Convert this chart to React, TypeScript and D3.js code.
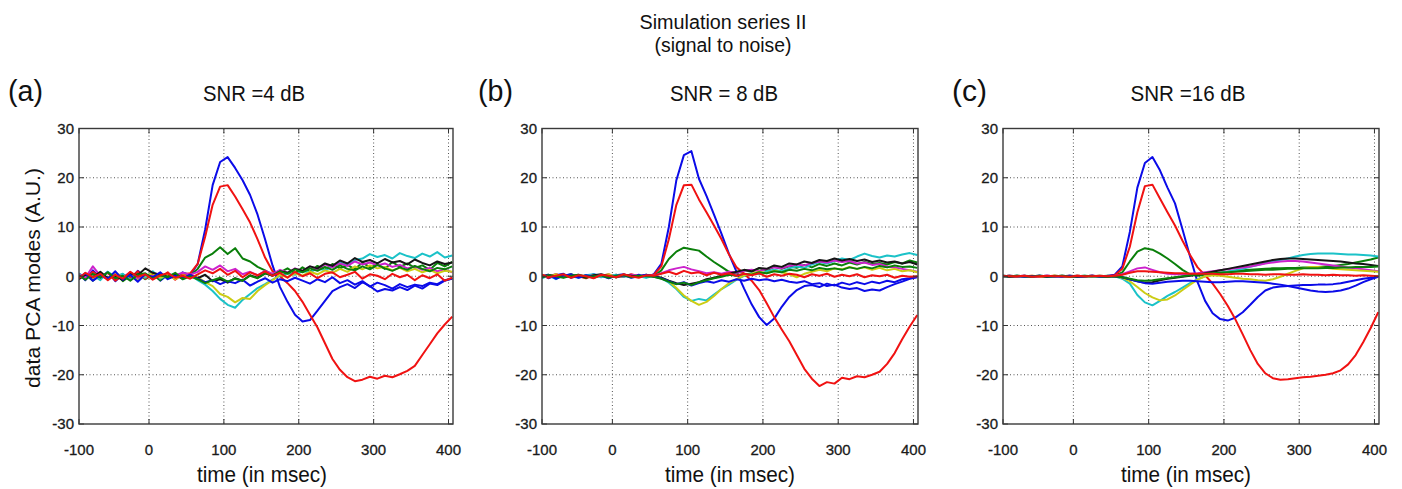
import React from 'react';
import * as d3 from 'd3';

// sampling grid (ms)
const TIMES: number[] = d3.range(-95, 406, 10);

const X_TICKS = [-100, 0, 100, 200, 300, 400];
const Y_TICKS = [-30, -20, -10, 0, 10, 20, 30];
const X_GRID = [0, 100, 200, 300, 400];
const Y_GRID = [-20, -10, 0, 10, 20];

const MAIN_TITLE = 'Simulation series II';
const SUB_TITLE = '(signal to noise)';
const PANEL_LABELS = ['(a)', '(b)', '(c)'];
const PANEL_TITLES = ['SNR =4 dB', 'SNR = 8 dB', 'SNR =16 dB'];
const X_LABEL = 'time (in msec)';
const Y_LABEL = 'data PCA modes (A.U.)';

const SERIES_KEYS = ['blue1', 'green1', 'red1', 'cyan', 'magenta', 'yellow', 'black', 'blue2', 'green2', 'red2'];
const SERIES_COLORS: Record<string, string> = {
  blue1: '#0b0be8', blue2: '#0b0be8', green1: '#0a7f0a', green2: '#0a7f0a',
  red1: '#f01212', red2: '#f01212', cyan: '#1bc2c8', magenta: '#cc22cc',
  yellow: '#cccc14', black: '#151515',
};

// ---------- Panel (a) SNR = 4 dB ----------
const A_BLUE1 = [0.5,-0.8,1.2,-0.3,0.9,-1.0,0.4,-0.6,1.1,-0.2,0.7,-0.9,0.3,-0.5,0.8,0.2,
  2.5,9.5,18.5,23.2,24.2,22.0,19.5,16.5,12.5,7.5,2.2,-2.2,-5.2,-7.8,-9.2,-8.9,-7.0,-5.0,-3.0,-2.2,-1.6,-2.4,-1.2,-2.0,-3.1,-2.6,-2.9,-2.2,-2.8,-1.9,-2.5,-1.5,-1.8,-0.9,-0.4];
const A_BLUE2 = [-0.3,0.6,-0.9,0.2,-0.5,1.0,-0.7,0.3,-1.1,0.4,-0.2,0.8,-0.6,0.1,-0.4,0.3,
  -0.5,-1.2,-0.8,-1.6,-1.0,-1.4,-0.7,-1.9,-1.1,-0.4,-1.3,-0.6,-1.0,-0.3,-0.9,-1.5,-0.6,-1.2,-0.2,-1.4,-0.8,-1.7,-1.0,-2.1,-1.3,-1.8,-2.5,-1.6,-2.2,-1.7,-2.0,-1.3,-1.6,-0.8,-0.5];
const A_RED1 = [0.3,-0.6,0.9,-0.2,0.7,-0.9,0.2,-0.4,1.0,-0.5,0.6,-0.3,0.8,-0.7,0.4,0.6,
  2.5,8.0,14.5,18.2,18.5,16.2,13.6,10.9,7.5,3.8,1.0,0.0,-1.4,-3.0,-5.2,-7.8,-10.4,-13.6,-16.8,-19.0,-20.5,-21.3,-21.0,-20.4,-20.8,-20.2,-20.5,-19.9,-19.2,-18.2,-16.0,-13.8,-11.6,-9.8,-8.2];
const A_RED2 = [-0.4,0.7,-0.2,0.5,-0.8,0.3,-0.5,0.9,-0.1,0.4,-0.7,0.2,0.6,-0.3,0.1,-0.5,
  0.4,1.2,0.6,1.5,0.3,1.1,-0.2,0.8,0.2,1.0,0.1,0.7,-0.3,0.9,0.0,0.6,-0.4,0.5,0.8,-0.2,0.3,0.9,-0.5,0.4,0.1,-0.6,0.5,-0.2,0.3,-0.8,0.2,-0.4,0.4,-0.9,-0.3];
const A_GREEN1 = [-0.5,0.4,-0.9,0.2,-0.3,0.7,-1.0,0.1,0.5,-0.6,0.3,-0.8,0.6,-0.2,0.4,0.1,
  1.5,3.8,4.6,5.9,4.5,5.7,3.6,3.0,1.9,1.2,0.3,0.8,1.6,0.6,1.8,0.9,2.1,1.3,2.5,1.6,2.3,1.4,2.8,1.8,2.4,1.5,2.9,1.9,2.6,1.7,2.2,1.3,2.7,2.0,2.9];
const A_GREEN2 = [0.2,-0.7,0.5,-0.3,0.8,-0.4,0.1,-0.9,0.3,0.6,-0.5,0.2,-0.2,0.7,-0.6,0.0,
  -0.6,-1.4,-0.8,-0.3,-1.1,-0.5,-0.9,0.1,-0.4,0.6,0.2,1.0,0.5,1.4,0.8,1.6,1.1,1.9,1.3,2.2,1.5,1.2,2.0,1.4,2.3,1.6,1.1,1.8,1.3,2.1,1.5,1.0,1.7,1.4,2.0];
const A_CYAN = [0.6,-0.4,0.2,-0.8,0.9,-0.1,0.5,-0.7,0.3,-0.3,1.0,-0.5,0.2,0.4,-0.6,0.3,
  -0.8,-1.7,-3.0,-4.6,-5.8,-6.4,-4.8,-3.6,-2.4,-1.6,-0.7,0.1,0.6,0.3,1.0,0.8,1.6,1.2,2.1,2.8,2.2,3.3,3.6,4.5,3.9,4.3,3.6,4.7,4.1,3.7,4.6,4.0,4.9,3.8,4.2];
const A_YELLOW = [-0.3,0.5,-0.7,0.2,-0.4,0.8,-0.2,0.4,-0.9,0.1,0.6,-0.3,0.3,-0.6,0.2,-0.1,
  -0.2,-1.2,-2.0,-3.6,-4.2,-5.3,-4.4,-4.6,-3.0,-1.8,-0.8,0.3,-0.2,0.6,0.1,0.9,0.4,1.2,0.7,1.5,0.9,2.0,1.4,2.2,1.6,1.9,1.2,1.7,1.0,1.5,0.8,1.3,0.6,1.1,0.9];
const A_MAGENTA = [0.4,-0.3,2.0,0.1,-0.6,0.5,-0.2,0.8,-0.5,0.3,0.0,0.6,-0.4,0.2,0.7,0.3,
  0.9,2.0,1.3,2.2,1.0,1.5,0.4,0.9,0.2,1.1,0.5,1.3,0.7,1.6,1.0,2.0,1.4,2.4,1.8,2.6,2.1,3.0,2.4,2.8,2.2,2.6,1.9,2.3,1.6,2.0,1.3,1.7,1.0,1.4,0.8];
const A_BLACK = [-0.6,0.3,-0.2,0.9,-0.4,0.1,-0.8,0.5,0.2,1.6,0.7,0.3,-0.1,0.4,-0.5,0.2,
  -0.4,0.3,-1.0,-0.6,-1.3,-0.4,-0.9,0.2,-0.3,0.6,0.1,1.0,0.7,1.5,1.1,2.0,1.6,2.6,2.1,3.2,2.6,3.7,2.9,3.3,2.6,3.5,2.8,3.1,2.4,3.4,2.7,2.2,3.0,2.5,2.8];

// ---------- Panel (b) SNR = 8 dB ----------
const B_BLUE1 = [0.3,-0.4,0.2,0.5,-0.3,0.1,-0.2,0.4,0.0,-0.3,0.2,0.4,-0.1,0.3,-0.2,0.4,
  2.5,10.0,19.5,24.6,25.4,19.8,16.3,12.5,8.6,4.5,0.9,-2.5,-5.7,-8.3,-9.9,-8.6,-6.2,-4.2,-2.8,-2.0,-1.8,-2.2,-1.5,-1.9,-1.3,-1.7,-1.2,-1.6,-1.1,-1.4,-0.9,-1.2,-0.6,-0.4,-0.1];
const B_BLUE2 = [-0.2,0.3,-0.5,0.1,0.4,-0.3,0.2,-0.1,0.3,-0.4,0.1,0.2,-0.3,0.0,0.3,-0.1,
  -0.4,-1.0,-1.6,-1.2,-1.9,-1.4,-1.0,-1.3,-0.8,-1.1,-0.6,-0.9,-0.5,-0.8,-0.6,-1.0,-0.7,-1.1,-1.3,-1.0,-1.6,-1.4,-2.0,-1.7,-2.3,-2.6,-2.4,-3.0,-2.7,-2.9,-2.2,-1.6,-1.1,-0.5,-0.2];
const B_RED1 = [0.2,-0.3,0.4,-0.1,0.3,0.0,-0.4,0.2,0.1,-0.2,0.3,-0.1,0.4,0.0,0.2,0.3,
  2.0,7.5,14.5,18.5,18.6,15.6,13.0,10.3,7.5,4.4,1.8,0.5,-0.9,-2.8,-5.5,-8.3,-10.8,-13.2,-16.0,-18.8,-20.8,-22.3,-21.5,-21.8,-20.6,-20.9,-20.3,-20.5,-20.0,-19.4,-17.8,-15.6,-12.8,-10.2,-7.9];
const B_RED2 = [0.3,-0.2,0.1,0.4,-0.3,0.2,0.0,-0.4,0.3,0.1,-0.2,0.4,0.0,-0.3,0.2,0.1,
  0.5,0.9,0.4,1.1,0.6,0.8,0.2,0.7,0.3,0.6,0.1,0.5,0.2,0.6,-0.1,0.4,0.1,0.5,0.3,-0.2,0.4,0.1,0.5,-0.1,0.3,0.0,0.4,-0.2,0.2,0.0,0.3,-0.3,0.1,-0.1,0.0];
const B_GREEN1 = [0.1,0.3,-0.2,0.0,0.4,-0.1,0.2,-0.3,0.1,0.3,-0.2,0.0,0.2,-0.1,0.3,0.0,
  1.2,3.5,5.0,5.8,5.5,5.2,4.0,2.9,1.9,0.9,0.6,1.2,0.9,1.6,1.2,1.9,1.5,2.0,1.7,2.3,1.8,2.5,2.1,2.6,2.2,2.8,2.4,2.9,2.5,2.7,2.4,2.9,2.6,3.2,2.8];
const B_GREEN2 = [-0.2,0.2,0.0,-0.3,0.1,0.3,-0.1,0.0,0.2,-0.3,0.1,0.2,-0.2,0.1,0.0,-0.1,
  -0.5,-1.1,-1.6,-1.3,-1.8,-1.2,-0.8,-0.4,-0.1,0.3,0.1,0.5,0.3,0.8,0.6,1.0,0.8,1.3,1.1,1.5,1.2,1.7,1.4,1.6,1.3,1.8,1.5,1.9,1.6,2.1,1.8,2.2,1.9,2.0,1.7];
const B_CYAN = [-0.4,0.2,-0.6,0.3,0.0,-0.3,0.2,0.4,-0.2,0.1,0.3,-0.1,0.2,0.0,-0.3,0.1,
  -0.4,-1.3,-2.6,-4.2,-5.0,-4.6,-4.9,-3.7,-2.6,-1.7,-0.7,0.1,0.6,0.4,1.0,1.3,1.0,1.6,2.0,1.7,2.4,2.9,2.6,3.1,3.6,3.3,4.0,4.6,4.1,3.8,4.2,4.0,4.4,4.7,4.3];
const B_YELLOW = [0.2,-0.1,0.4,-0.2,0.3,0.0,-0.3,0.2,0.1,0.4,-0.2,0.3,0.0,-0.1,0.2,0.0,
  -0.3,-1.0,-2.4,-3.9,-5.0,-5.8,-5.2,-4.0,-2.6,-1.4,-0.6,0.2,0.5,0.9,0.6,1.1,0.8,0.4,-0.2,0.5,0.9,1.3,1.0,1.6,1.4,1.9,1.5,1.8,1.3,1.7,1.2,1.5,1.0,1.2,0.8];
const B_MAGENTA = [0.3,0.0,0.4,-0.2,0.1,0.3,-0.1,0.2,0.0,0.4,-0.2,0.1,0.3,0.0,0.2,0.1,
  0.6,1.2,1.6,1.9,1.4,1.0,0.6,0.8,0.5,0.9,0.7,1.1,1.3,1.0,1.5,1.8,1.6,2.1,2.4,2.2,2.7,3.0,2.8,3.2,2.9,3.1,2.6,2.8,2.3,2.5,2.0,1.8,1.5,1.2,0.9];
const B_BLACK = [-0.1,0.2,0.0,0.3,-0.2,0.1,-0.3,0.2,0.4,0.0,-0.2,0.3,0.1,-0.1,0.2,0.0,
  -0.3,-0.9,-1.4,-1.8,-1.5,-1.2,-0.6,-0.3,0.1,0.5,0.9,1.3,1.0,1.7,1.5,2.2,1.9,2.6,2.4,3.0,2.7,3.3,3.1,3.6,3.2,3.5,3.1,3.4,2.9,3.2,2.8,3.0,2.6,2.9,2.4];

// ---------- Panel (c) SNR = 16 dB ----------
const C_BLUE1 = [0.1,-0.1,0.0,0.1,-0.1,0.0,0.1,0.0,-0.1,0.0,0.1,0.0,-0.1,0.0,0.1,0.3,
  2.0,9.0,18.0,23.0,24.2,21.5,18.0,14.8,9.5,4.0,-1.2,-5.0,-7.5,-8.7,-9.0,-8.4,-7.3,-5.8,-4.2,-2.9,-2.3,-2.1,-2.0,-1.9,-1.8,-1.8,-1.7,-1.7,-1.6,-1.4,-1.1,-0.8,-0.5,-0.3,-0.1];
const C_BLUE2 = [0.0,0.1,0.0,-0.1,0.0,0.1,0.0,0.0,-0.1,0.1,0.0,0.0,0.1,-0.1,0.0,0.0,
  -0.2,-0.6,-1.0,-1.4,-1.5,-1.3,-1.1,-1.0,-0.9,-0.9,-1.0,-1.1,-1.2,-1.2,-1.1,-1.0,-1.0,-1.1,-1.2,-1.3,-1.5,-1.7,-2.0,-2.3,-2.6,-2.9,-3.1,-3.2,-3.1,-2.9,-2.5,-1.9,-1.2,-0.6,-0.1];
const C_RED1 = [0.0,0.1,-0.1,0.0,0.1,-0.1,0.0,0.1,0.0,-0.1,0.1,0.0,0.1,-0.1,0.0,0.2,
  1.5,6.0,13.0,18.3,18.6,15.8,13.0,10.3,7.2,4.3,1.8,0.2,-1.5,-3.6,-6.0,-8.7,-11.8,-15.0,-17.8,-19.7,-20.7,-21.0,-20.9,-20.7,-20.5,-20.4,-20.2,-20.0,-19.7,-19.1,-17.9,-16.0,-13.4,-10.5,-7.3];
const C_RED2 = [0.1,0.0,0.0,0.1,-0.1,0.0,0.1,0.0,0.0,-0.1,0.1,0.0,0.0,0.1,0.0,0.1,
  0.3,0.7,1.0,1.0,0.9,0.8,0.7,0.6,0.6,0.5,0.5,0.5,0.5,0.4,0.4,0.5,0.5,0.4,0.4,0.3,0.4,0.4,0.3,0.3,0.4,0.3,0.3,0.2,0.3,0.2,0.2,0.1,0.2,0.1,0.0];
const C_GREEN1 = [0.1,0.0,-0.1,0.1,0.0,0.0,-0.1,0.1,0.0,0.1,0.0,-0.1,0.0,0.1,0.0,0.1,
  0.8,3.0,5.0,5.7,5.4,4.6,3.6,2.5,1.3,0.4,0.1,0.3,0.5,0.7,0.9,1.0,1.2,1.3,1.4,1.5,1.6,1.6,1.7,1.7,1.8,1.8,1.9,2.0,2.1,2.3,2.5,2.8,3.1,3.4,3.8];
const C_GREEN2 = [0.0,0.0,0.1,0.0,-0.1,0.1,0.0,0.0,0.1,-0.1,0.0,0.1,0.0,0.0,-0.1,0.0,
  -0.2,-0.5,-0.8,-0.9,-0.8,-0.6,-0.4,-0.2,0.0,0.2,0.3,0.5,0.6,0.7,0.8,0.9,1.0,1.1,1.2,1.3,1.3,1.4,1.5,1.5,1.6,1.6,1.6,1.7,1.7,1.8,1.8,1.9,1.9,1.9,2.0];
const C_CYAN = [0.1,0.0,0.1,-0.1,0.0,0.1,0.0,-0.1,0.1,0.0,0.0,0.1,-0.1,0.0,0.1,0.0,
  -0.5,-1.5,-3.8,-5.3,-5.9,-5.0,-4.0,-3.2,-2.3,-1.4,-0.6,0.0,0.4,0.7,0.9,1.2,1.5,1.9,2.3,2.7,3.0,3.3,3.6,4.0,4.3,4.5,4.6,4.6,4.6,4.5,4.4,4.4,4.3,4.2,4.0];
const C_YELLOW = [0.0,0.1,0.0,-0.1,0.1,0.0,0.0,0.1,-0.1,0.0,0.1,0.0,0.0,-0.1,0.1,0.0,
  -0.3,-1.0,-2.2,-3.4,-4.3,-4.9,-4.7,-3.9,-2.8,-1.7,-0.7,0.0,0.2,0.1,-0.1,-0.3,-0.5,-0.6,-0.8,-0.9,-0.6,-0.1,0.5,1.1,1.6,1.9,1.9,1.7,1.5,1.4,1.3,1.2,1.1,1.0,0.9];
const C_MAGENTA = [0.0,0.1,0.0,0.1,-0.1,0.0,0.1,0.0,0.0,0.1,-0.1,0.0,0.1,0.0,0.0,0.1,
  0.4,1.0,1.6,1.8,1.3,0.8,0.5,0.4,0.4,0.5,0.6,0.8,1.0,1.2,1.4,1.6,1.8,2.0,2.3,2.6,2.8,3.0,3.1,3.1,3.0,2.8,2.6,2.4,2.2,2.0,1.8,1.6,1.4,1.2,1.0];
const C_BLACK = [0.0,-0.1,0.1,0.0,0.0,0.1,-0.1,0.0,0.1,0.0,-0.1,0.0,0.1,0.0,-0.1,0.0,
  -0.2,-0.6,-1.0,-1.3,-1.2,-0.8,-0.5,-0.3,-0.1,0.1,0.3,0.6,0.9,1.2,1.5,1.8,2.1,2.4,2.7,3.0,3.3,3.5,3.6,3.6,3.5,3.4,3.3,3.2,3.1,3.0,2.8,2.6,2.5,2.3,2.1];

const PANEL_DATA: Record<string, number[]>[] = [
  { blue1: A_BLUE1, green1: A_GREEN1, red1: A_RED1, cyan: A_CYAN, magenta: A_MAGENTA, yellow: A_YELLOW, black: A_BLACK, blue2: A_BLUE2, green2: A_GREEN2, red2: A_RED2 },
  { blue1: B_BLUE1, green1: B_GREEN1, red1: B_RED1, cyan: B_CYAN, magenta: B_MAGENTA, yellow: B_YELLOW, black: B_BLACK, blue2: B_BLUE2, green2: B_GREEN2, red2: B_RED2 },
  { blue1: C_BLUE1, green1: C_GREEN1, red1: C_RED1, cyan: C_CYAN, magenta: C_MAGENTA, yellow: C_YELLOW, black: C_BLACK, blue2: C_BLUE2, green2: C_GREEN2, red2: C_RED2 },
];

// layout (pixels)
const LAYOUT = [
  { left: 79, right: 453, labelX: 8, titleX: 254, titleW: 102, xLabelX: 262 },
  { left: 542, right: 918, labelX: 478, titleX: 724, titleW: 108, xLabelX: 730 },
  { left: 1003, right: 1379, labelX: 952, titleX: 1188, titleW: 115, xLabelX: 1186 },
];
const TOP = 128.5;
const BOTTOM = 424;
const FONT = "'Liberation Sans', Arial, Helvetica, sans-serif";

function Panel({ idx }: { idx: number }) {
  const L = LAYOUT[idx];
  const data = PANEL_DATA[idx];
  const x = d3.scaleLinear().domain([-93.5, 406]).range([L.left, L.right]).clamp(true);
  const y = d3.scaleLinear().domain([-30, 30]).range([BOTTOM, TOP]);
  const line = d3
    .line<number>()
    .defined((d, i) => d != null && i < TIMES.length)
    .x((_, i) => x(TIMES[i]))
    .y((d) => y(d));
  const clipId = `clip-${idx}`;
  const tickLen = 5;
  return (
    <g>
      <defs>
        <clipPath id={clipId}>
          <rect x={L.left} y={TOP} width={L.right - L.left} height={BOTTOM - TOP} />
        </clipPath>
      </defs>
      {X_GRID.map((t) => (
        <line key={'gx' + t} x1={x(t)} x2={x(t)} y1={TOP} y2={BOTTOM} stroke="#555" strokeWidth={1} strokeDasharray="1,2.5" />
      ))}
      {Y_GRID.map((v) => (
        <line key={'gy' + v} x1={L.left} x2={L.right} y1={y(v)} y2={y(v)} stroke="#555" strokeWidth={1} strokeDasharray="1,2.5" />
      ))}
      <g clipPath={`url(#${clipId})`}>
        {SERIES_KEYS.map((k) => (
          <path key={k} d={line(data[k]) || ''} fill="none" stroke={SERIES_COLORS[k]} strokeWidth={2} strokeLinejoin="round" />
        ))}
      </g>
      {X_TICKS.map((t) => (
        <g key={'xt' + t}>
          <line x1={x(t)} x2={x(t)} y1={BOTTOM} y2={BOTTOM - tickLen} stroke="#333" strokeWidth={1} />
          <line x1={x(t)} x2={x(t)} y1={TOP} y2={TOP + tickLen} stroke="#333" strokeWidth={1} />
          <text x={x(t)} y={455} textAnchor="middle" fontFamily={FONT} fontSize={15} fill="#1a1a1a" stroke="#1a1a1a" strokeWidth={0.3}>{t}</text>
        </g>
      ))}
      {Y_TICKS.map((v) => (
        <g key={'yt' + v}>
          <line x1={L.left} x2={L.left + tickLen} y1={y(v)} y2={y(v)} stroke="#333" strokeWidth={1} />
          <line x1={L.right} x2={L.right - tickLen} y1={y(v)} y2={y(v)} stroke="#333" strokeWidth={1} />
          <text x={L.left - 5} y={y(v)} dy="0.36em" textAnchor="end" fontFamily={FONT} fontSize={15} fill="#1a1a1a" stroke="#1a1a1a" strokeWidth={0.3}>{v}</text>
        </g>
      ))}
      <rect x={L.left} y={TOP} width={L.right - L.left} height={BOTTOM - TOP} fill="none" stroke="#3a3a3a" strokeWidth={1.4} />
      <text x={L.labelX} y={101} fontFamily={FONT} fontSize={30} fill="#111" textLength={35} lengthAdjust="spacingAndGlyphs">{PANEL_LABELS[idx]}</text>
      <text x={L.titleX} y={101} textAnchor="middle" fontFamily={FONT} fontSize={22} fill="#111" textLength={L.titleW} lengthAdjust="spacingAndGlyphs">{PANEL_TITLES[idx]}</text>
      <text x={L.xLabelX} y={482} textAnchor="middle" fontFamily={FONT} fontSize={22} fill="#111" textLength={130} lengthAdjust="spacingAndGlyphs">{X_LABEL}</text>
    </g>
  );
}

export default function App() {
  return (
    <svg width={1402} height={489} style={{ position: 'absolute', left: 0, top: 0, background: '#fff' }}>
      <rect x={0} y={0} width={1402} height={489} fill="#fff" />
      <text x={723} y={29} textAnchor="middle" fontFamily={FONT} fontSize={20} fill="#111" textLength={167} lengthAdjust="spacingAndGlyphs">{MAIN_TITLE}</text>
      <text x={723} y={52} textAnchor="middle" fontFamily={FONT} fontSize={20} fill="#111" textLength={137} lengthAdjust="spacingAndGlyphs">{SUB_TITLE}</text>
      <text transform="translate(40,278) rotate(-90)" textAnchor="middle" fontFamily={FONT} fontSize={21} fill="#111" textLength={220} lengthAdjust="spacingAndGlyphs">{Y_LABEL}</text>
      {[0, 1, 2].map((i) => (
        <Panel key={i} idx={i} />
      ))}
    </svg>
  );
}
